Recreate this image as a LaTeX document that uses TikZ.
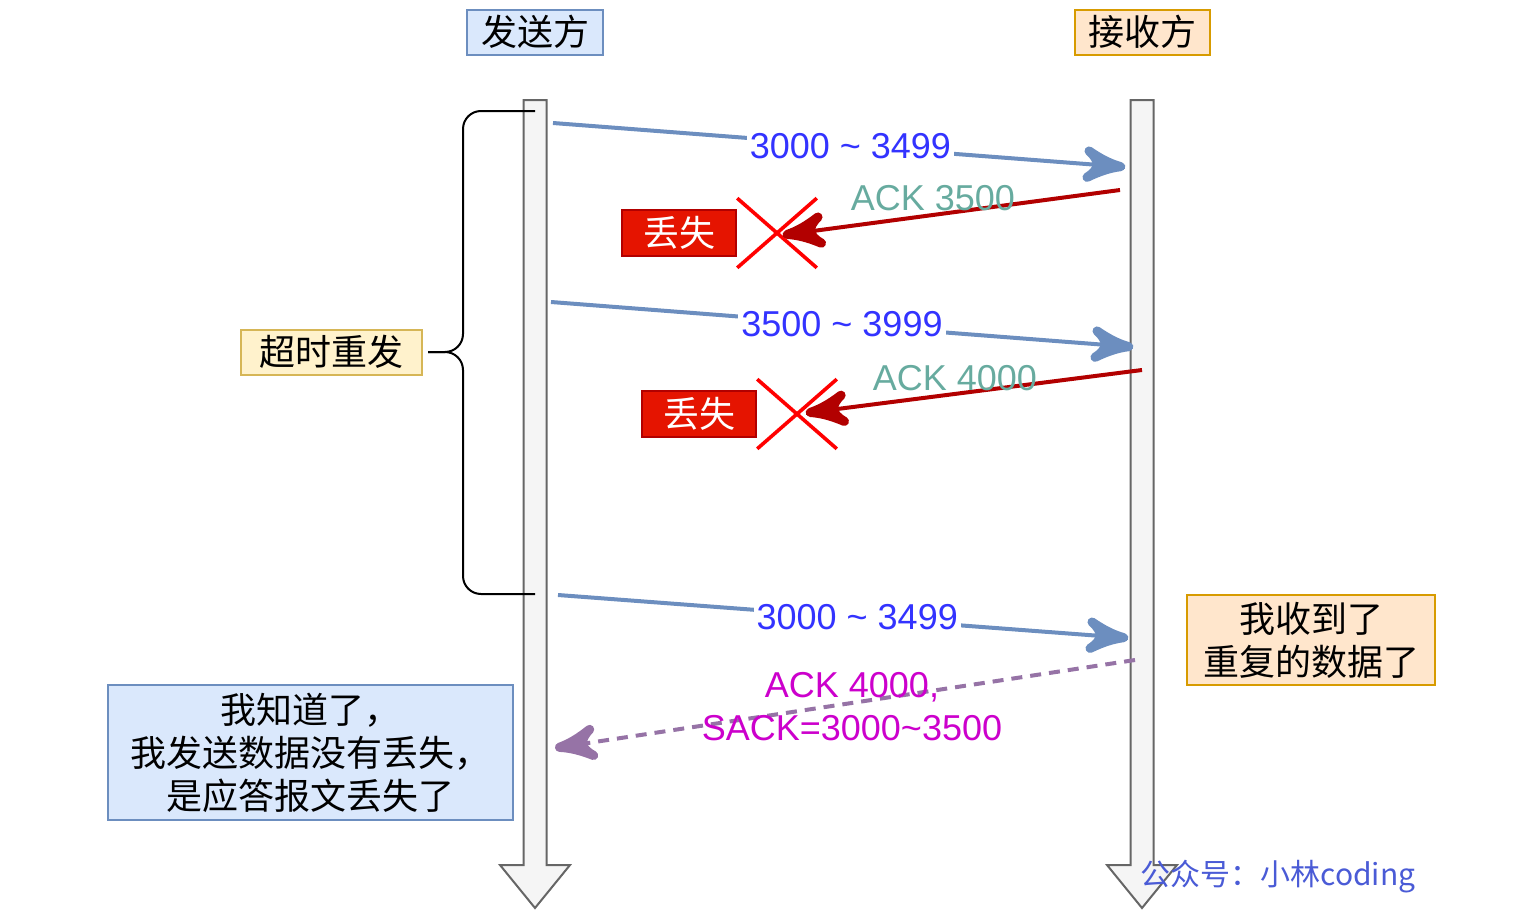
\documentclass[tikz,border=0pt]{standalone}
\usepackage{fontspec}
\setmainfont{Liberation Sans}
\newfontfamily\cjk{Noto Sans CJK SC}
\usepackage{tikz}
\usetikzlibrary{arrows}
\usetikzlibrary{decorations.markings}
\usetikzlibrary{positioning}
\usetikzlibrary{shapes.misc}
\definecolor{mblue}{HTML}{6C8EBF}
\definecolor{numblue}{HTML}{3333FF}
\definecolor{ackgreen}{HTML}{67AB9F}
\definecolor{ackred}{HTML}{B20000}
\definecolor{sackpink}{HTML}{CC00CC}
\definecolor{mpurple}{HTML}{9673A6}
\definecolor{lostred}{HTML}{E51400}
\definecolor{bluefill}{HTML}{DAE8FC}
\definecolor{orangefill}{HTML}{FFE6CC}
\definecolor{orangeline}{HTML}{D79B00}
\definecolor{yellowfill}{HTML}{FFF2CC}
\definecolor{yellowline}{HTML}{D6B656}
\definecolor{wmblue}{HTML}{4A5BD6}
\tikzset{tip/.style = {decoration={markings,
                                   mark=at position 1 with {\arrow[scale=2.3]{stealth'}}},
                       postaction={decorate}}}
\tikzset{msg/.style = {mblue, line width=2pt, tip},
         ack/.style = {ackred, line width=2pt, tip},
         sack/.style = {mpurple, line width=2pt, dash pattern=on 5.5pt off 4pt, tip},
         num/.style = {text=numblue, fill=white, inner sep=1.5pt, font=\fontsize{18}{20}\selectfont},
         acklbl/.style = {text=ackgreen, inner sep=0pt, font=\fontsize{18}{20}\selectfont},
         cnbox/.style = {draw, line width=1pt, inner sep=2pt, font=\cjk\fontsize{18}{21.5}\selectfont, align=center},
         lostbox/.style = {draw=ackred, fill=lostred, text=white, line width=1pt,
                           minimum width=57pt, minimum height=23pt, inner sep=0pt, font=\cjk\fontsize{18}{20}\selectfont},
         lostx/.style = {cross out, draw=red, line width=1.8pt, minimum width=38pt, minimum height=33pt, inner sep=0pt},
         life/.style = {draw=black!60, fill=black!4, line width=1pt}}

\begin{document}
\begin{tikzpicture}[x=0.5pt, y=-0.5pt]
    \useasboundingbox (0, 0) rectangle (1532, 910);

    % lifelines
    \foreach \x in {535, 1142}
      \draw [life] (\x-11.5, 100) -- (\x+11.5, 100) -- (\x+11.5, 865) -- (\x+35, 865)
                   -- (\x, 908) -- (\x-35, 865) -- (\x-11.5, 865) -- cycle;

    \node [cnbox, draw=mblue, fill=bluefill, minimum width=68pt, minimum height=22.5pt] (snd) at (535, 32) {发送方};
    \node [cnbox, draw=orangeline, fill=orangefill, minimum width=67.5pt, minimum height=22.5pt] (rcv) at (1142, 32) {接收方};

    % brace
    \coordinate (btip) at (428, 352);
    \draw [line width=1pt, rounded corners=9pt] (535, 111) -- (463, 111) -- (463, 352) -- (btip);
    \draw [line width=1pt, rounded corners=9pt] (btip) -- (463, 352) -- (463, 594) -- (535, 594);
    \node [cnbox, draw=yellowline, fill=yellowfill, minimum width=90.5pt, minimum height=22.5pt, anchor=east] (retx) at ([xshift=-2.5pt]btip) {超时重发};

    % first send, ack lost
    \coordinate (s1) at (553, 123);
    \coordinate (r1) at (1125, 167);
    \draw [msg] (s1) -- node [num, pos=0.52] {3000 \textasciitilde\ 3499} (r1);
    \node [lostx] (x1) at (777, 233) {};
    \node [lostbox, left=0pt of x1] (lost1) {丢失};
    \coordinate (a1) at (1120, 190);
    \coordinate (e1) at (783, 235);
    \draw [ack] (a1) -- (e1);
    \node [acklbl] (ack1) at (933, 198) {ACK 3500};

    % second send, ack lost
    \coordinate (s2) at (551, 302);
    \coordinate (r2) at (1133, 347);
    \draw [msg] (s2) -- node [num, pos=0.5] {3500 \textasciitilde\ 3999} (r2);
    \node [lostx] (x2) at (797, 414) {};
    \node [lostbox, left=0pt of x2] (lost2) {丢失};
    \coordinate (a2) at (1142, 370);
    \coordinate (e2) at (806, 413);
    \draw [ack] (a2) -- (e2);
    \node [acklbl] (ack2) at (955, 378) {ACK 4000};

    % retransmission
    \coordinate (s3) at (558, 595);
    \coordinate (r3) at (1128, 638);
    \draw [msg] (s3) -- node [num, pos=0.525] {3000 \textasciitilde\ 3499} (r3);
    \coordinate (a3) at (1135, 660);
    \coordinate (e3) at (555, 748);
    \draw [sack] (a3) -- (e3);
    \node [text=sackpink, align=center, inner sep=0pt, font=\fontsize{18}{21.5}\selectfont] (sacklbl) at (852, 707)
          {ACK 4000,\\SACK=3000\textasciitilde3500};

    \node [cnbox, draw=orangeline, fill=orangefill, minimum width=124pt, minimum height=45pt] (dup) at (1311, 640)
          {我收到了\\重复的数据了};
    \node [cnbox, draw=mblue, fill=bluefill, minimum width=202.5pt, minimum height=67.5pt] (know) at (310.5, 752.5)
          {我知道了，\\我发送数据没有丢失，\\是应答报文丢失了};

    \node [text=wmblue, inner sep=0pt, font=\cjk\fontsize{15}{18}\selectfont] (wm) at (1278, 877) {公众号：小林coding};
\end{tikzpicture}
\end{document}
